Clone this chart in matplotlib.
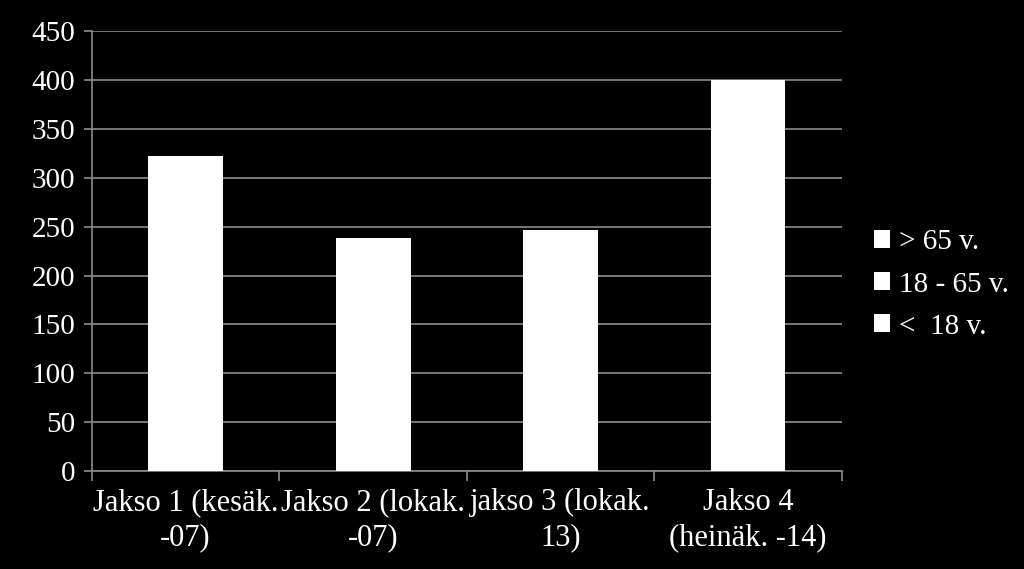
import numpy as np
import matplotlib
matplotlib.use("Agg")
import matplotlib.pyplot as plt
from matplotlib.patches import Patch

plt.rcParams["font.family"] = ["Liberation Serif", "DejaVu Serif"]

categories = ["Jakso 1 (kesäk.\n-07)", "Jakso 2 (lokak.\n-07)",
              "jakso 3 (lokak.\n13)", "Jakso 4\n(heinäk. -14)"]
# all segments are drawn white, so only the stacked totals can be read
under_18 = [322, 238, 247, 400]
age_18_65 = [0, 0, 0, 0]
over_65 = [0, 0, 0, 0]
series_names = ["<  18 v.", "18 - 65 v.", "> 65 v."]
y_ticks = list(range(0, 451, 50))

fig = plt.figure(figsize=(10.24, 5.69), dpi=100, facecolor="black")
ax = fig.add_axes([0.0898, 0.172, 0.7322, 0.7735], facecolor="black")

x = np.arange(len(categories))
bottom = np.zeros(len(categories))
for vals in [under_18, age_18_65, over_65]:
    ax.bar(x, vals, width=0.4, bottom=bottom, color="white", zorder=3)
    bottom += np.array(vals)

ax.set_xlim(-0.5, len(categories) - 0.5)
ax.set_ylim(0, 450)
ax.set_yticks(y_ticks)
ax.set_yticklabels([str(v) for v in y_ticks], fontsize=21, color="white")
ax.yaxis.grid(True, color="#8c8c8c", linewidth=1.2, zorder=0)

ax.set_xticks(np.arange(-0.5, len(categories)), minor=False)
ax.set_xticklabels([])
ax.set_xticks(x, minor=True)
ax.set_xticklabels(categories, minor=True, fontsize=22, color="white",
                   linespacing=1.3)
ax.tick_params(axis="x", which="minor", length=0, pad=12)
ax.tick_params(axis="x", which="major", length=7, color="#8c8c8c", width=1.2)
ax.tick_params(axis="y", length=6, color="#8c8c8c", width=1.2, pad=6)

for s in ["top", "right"]:
    ax.spines[s].set_visible(False)
for s in ["left", "bottom"]:
    ax.spines[s].set_color("#8c8c8c")
    ax.spines[s].set_linewidth(1.2)

handles = [Patch(facecolor="white", edgecolor="none", label=n) for n in series_names]
handles = handles[::-1]
fig.legend(handles=handles, loc="center left", bbox_to_anchor=(0.828, 0.5),
           frameon=False, fontsize=21, labelcolor="white", handlelength=0.55,
           handleheight=0.55, handletextpad=0.3, labelspacing=0.55)

fig.savefig("out.png", dpi=100, facecolor="black")
